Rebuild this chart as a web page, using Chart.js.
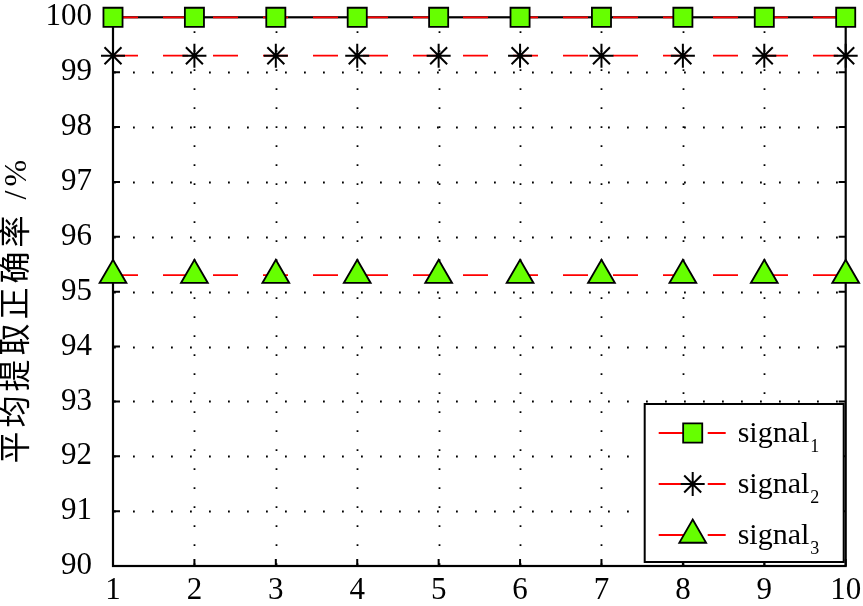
<!DOCTYPE html>
<html>
<head>
<meta charset="utf-8">
<script src="https://cdn.jsdelivr.net/npm/chart.js@4/dist/chart.umd.min.js"></script>
<style>
  html, body { margin: 0; padding: 0; background: #fff; }
</style>
</head>
<body>
<canvas id="accChart" width="863" height="606"></canvas>
<script>
// Data
const xLabels = ["1", "2", "3", "4", "5", "6", "7", "8", "9", "10"];
const signal1 = [100, 100, 100, 100, 100, 100, 100, 100, 100, 100];
const signal2 = [99.3, 99.3, 99.3, 99.3, 99.3, 99.3, 99.3, 99.3, 99.3, 99.3];
const signal3 = [95.3, 95.3, 95.3, 95.3, 95.3, 95.3, 95.3, 95.3, 95.3, 95.3];
const seriesNames = ["signal", "signal", "signal"];
const seriesSubs = ["1", "2", "3"];
const yTitle = "平均提取正确率 /%";
const yMin = 90;
const yMax = 100;

const serif = "'Liberation Serif', 'Times New Roman', serif";
const tickFont = { family: serif, size: 31 };
const lineRed = "#ff0000";
const markerGreen = "#66ff00";

// Dotted grid, inward ticks and the box frame
const framePlugin = {
  id: "frame",
  beforeDatasetsDraw(chart) {
    const { ctx, chartArea, scales } = chart;
    const { left, right, top, bottom } = chartArea;
    ctx.save();
    ctx.strokeStyle = "#000";

    // dotted grid
    ctx.lineWidth = 1.8;
    ctx.setLineDash([1.8, 17.2]);
    scales.y.ticks.forEach((t) => {
      if (t.value <= yMin || t.value >= yMax) return;
      const py = Math.round(scales.y.getPixelForValue(t.value)) + 0.5;
      ctx.beginPath();
      ctx.moveTo(left + 1, py);
      ctx.lineTo(right, py);
      ctx.stroke();
    });
    scales.x.ticks.forEach((t, i) => {
      if (i === 0 || i === scales.x.ticks.length - 1) return;
      const px = Math.round(scales.x.getPixelForTick(i)) + 0.5;
      ctx.beginPath();
      ctx.moveTo(px, bottom - 1);
      ctx.lineTo(px, top);
      ctx.stroke();
    });
    ctx.setLineDash([]);

    // inward ticks
    ctx.lineWidth = 2;
    const tl = 7;
    scales.y.ticks.forEach((t) => {
      const py = scales.y.getPixelForValue(t.value);
      ctx.beginPath();
      ctx.moveTo(left, py);
      ctx.lineTo(left + tl, py);
      ctx.moveTo(right, py);
      ctx.lineTo(right - tl, py);
      ctx.stroke();
    });
    scales.x.ticks.forEach((t, i) => {
      const px = scales.x.getPixelForTick(i);
      ctx.beginPath();
      ctx.moveTo(px, bottom);
      ctx.lineTo(px, bottom - tl);
      ctx.moveTo(px, top);
      ctx.lineTo(px, top + tl);
      ctx.stroke();
    });

    // frame
    ctx.lineWidth = 2.2;
    ctx.strokeRect(left, top, right - left, bottom - top);
    ctx.restore();
  },
  afterDraw(chart) {
    // y axis title, set a bit below the plot centre like the original
    const { ctx, chartArea } = chart;
    ctx.save();
    ctx.translate(18, (chartArea.top + chartArea.bottom) / 2 + 18);
    ctx.rotate(-Math.PI / 2);
    ctx.fillStyle = "#000";
    ctx.textAlign = "center";
    ctx.textBaseline = "middle";
    ctx.font = "32px 'Liberation Serif', 'Noto Sans CJK SC', serif";
    ctx.letterSpacing = "4px";
    ctx.fillText(yTitle, 0, 0);
    ctx.restore();
  },
};

// MATLAB-style legend box in the lower right corner
const legendPlugin = {
  id: "boxLegend",
  afterDatasetsDraw(chart) {
    const { ctx, chartArea } = chart;
    const boxW = 199;
    const boxH = 158;
    const bx = chartArea.right - boxW - 2;
    const by = chartArea.bottom - boxH - 4;
    ctx.save();
    ctx.fillStyle = "#fff";
    ctx.fillRect(bx, by, boxW, boxH);
    ctx.strokeStyle = "#000";
    ctx.lineWidth = 2;
    ctx.strokeRect(bx, by, boxW, boxH);

    const rowY = [by + 29, by + 80, by + 131];
    chart.data.datasets.forEach((ds, i) => {
      const cy = rowY[i];
      const x0 = bx + 14;
      const mx = bx + 48;
      // red line segments
      ctx.strokeStyle = lineRed;
      ctx.lineWidth = 1.8;
      ctx.beginPath();
      ctx.moveTo(x0, cy);
      ctx.lineTo(mx, cy);
      ctx.moveTo(mx + 15, cy);
      ctx.lineTo(x0 + 67, cy);
      ctx.stroke();
      // marker
      ctx.fillStyle = ds.pointBackgroundColor;
      ctx.strokeStyle = ds.pointBorderColor;
      ctx.lineWidth = ds.pointBorderWidth;
      Chart.helpers.drawPoint(ctx, {
        pointStyle: ds.pointStyle,
        radius: ds.pointRadius,
        rotation: 0,
        borderWidth: ds.pointBorderWidth,
      }, mx, cy);
      // label with subscript
      ctx.fillStyle = "#000";
      ctx.textAlign = "left";
      ctx.textBaseline = "alphabetic";
      ctx.font = "30px " + serif;
      const tx = bx + 93;
      ctx.fillText(seriesNames[i], tx, cy + 9);
      const w = ctx.measureText(seriesNames[i]).width;
      ctx.font = "18px " + serif;
      ctx.fillText(seriesSubs[i], tx + w + 1, cy + 19);
    });
    ctx.restore();
  },
};

const ctx = document.getElementById("accChart").getContext("2d");

const chart = new Chart(ctx, {
  type: "line",
  data: {
    labels: xLabels,
    datasets: [
      {
        label: "signal1",
        data: signal1,
        borderColor: lineRed,
        borderWidth: 1.8,
        borderDash: [25, 25],
        pointStyle: "rect",
        pointRadius: 13.5,
        pointBackgroundColor: markerGreen,
        pointBorderColor: "#000",
        pointBorderWidth: 1.8,
        clip: false,
      },
      {
        label: "signal2",
        data: signal2,
        borderColor: lineRed,
        borderWidth: 1.8,
        borderDash: [25, 25],
        pointStyle: "star",
        pointRadius: 12,
        pointBackgroundColor: "#000",
        pointBorderColor: "#000",
        pointBorderWidth: 2,
        clip: false,
      },
      {
        label: "signal3",
        data: signal3,
        borderColor: lineRed,
        borderWidth: 1.8,
        borderDash: [25, 25],
        pointStyle: "triangle",
        pointRadius: 15.5,
        pointBackgroundColor: markerGreen,
        pointBorderColor: "#000",
        pointBorderWidth: 1.8,
        clip: false,
      },
    ],
  },
  options: {
    responsive: false,
    animation: false,
    events: [],
    layout: {
      padding: { top: 13, right: 15, left: 0, bottom: 0 },
    },
    scales: {
      x: {
        type: "category",
        offset: false,
        grid: { display: false, drawTicks: false },
        border: { display: false },
        ticks: {
          color: "#000",
          font: tickFont,
          padding: 6,
          maxRotation: 0,
          autoSkip: false,
        },
        afterFit(scale) {
          scale.height = 40;
          scale.paddingLeft = 0;
          scale.paddingRight = 0;
        },
      },
      y: {
        min: yMin,
        max: yMax,
        grid: { display: false, drawTicks: false },
        border: { display: false },
        ticks: {
          stepSize: 1,
          color: "#000",
          font: tickFont,
          padding: 21,
        },
        afterFit(scale) {
          scale.width = 113;
          scale.paddingTop = 0;
          scale.paddingBottom = 0;
        },
      },
    },
    plugins: {
      legend: { display: false },
      tooltip: { enabled: false },
    },
  },
  plugins: [framePlugin, legendPlugin],
});
</script>
</body>
</html>
